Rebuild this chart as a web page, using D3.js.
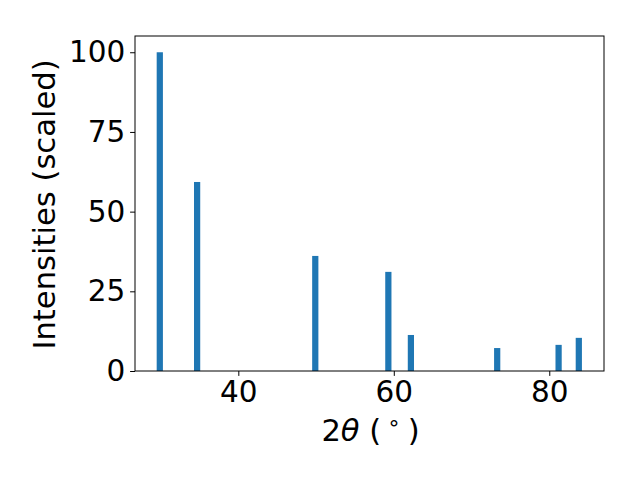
<!DOCTYPE html>
<html><head><meta charset="utf-8">
<script src="https://cdn.jsdelivr.net/npm/d3@7"></script>
<style>body{margin:0;background:#fff}svg{display:block}text{font-family:"DejaVu Sans",sans-serif}</style>
</head><body><svg id="c" width="640" height="480"></svg>
<script>
const twoTheta = [29.9, 34.7, 49.9, 59.3, 62.2, 73.3, 81.2, 83.8];
const intensity = [100, 59.3, 36.1, 31.1, 11.3, 7.2, 8.2, 10.4];
const xTicks = [40, 60, 80];
const yTicks = [0, 25, 50, 75, 100];
const barWidth = 0.8;

const svg = d3.select("#c");
const L = 135, R = 604, T = 36, B = 371;
const x = d3.scaleLinear().domain([26.71, 87.04]).range([L, R]);
const y = d3.scaleLinear().domain([0, 105.1]).range([B, T]);
const fs = 29.5, lfs = 30.6;

svg.append("g").selectAll("rect").data(twoTheta).join("rect")
  .attr("x", (d) => x(d - barWidth / 2))
  .attr("width", (d) => x(d + barWidth / 2) - x(d - barWidth / 2))
  .attr("y", (d, i) => y(intensity[i]))
  .attr("height", (d, i) => y(0) - y(intensity[i]))
  .attr("fill", "#1f77b4");

const xa = svg.append("g").attr("transform", `translate(0,${B})`)
  .call(d3.axisBottom(x).tickValues(xTicks).tickFormat(d3.format("d")).tickSize(4.9).tickPadding(4.9));
const ya = svg.append("g").attr("transform", `translate(${L},0)`)
  .call(d3.axisLeft(y).tickValues(yTicks).tickFormat(d3.format("d")).tickSize(4.9).tickPadding(4.9));
[xa, ya].forEach(a => {
  a.attr("font-size", fs).attr("font-family", "DejaVu Sans");
  a.select(".domain").remove();
  a.selectAll("line").attr("stroke", "#000").attr("stroke-width", 1);
  a.selectAll("text").attr("font-size", fs).attr("fill", "#000");
});

svg.append("rect").attr("x", L).attr("y", T).attr("width", R - L).attr("height", B - T)
  .attr("fill", "none").attr("stroke", "#000").attr("stroke-width", 1);

const xl = svg.append("text").attr("x", (L + R) / 2 + 1).attr("y", 441).attr("text-anchor", "middle")
  .attr("font-size", lfs);
xl.append("tspan").text("2");
xl.append("tspan").attr("font-style", "italic").text("θ");
xl.append("tspan").text(" (");
xl.append("tspan").attr("font-size", lfs * 0.7).attr("dx", 6).attr("dy", -11).text("∘");
xl.append("tspan").attr("dx", 7).attr("dy", 11).text(")");

svg.append("text").attr("transform", `translate(55,${(T + B) / 2 + 1}) rotate(-90)`)
  .attr("text-anchor", "middle").attr("font-size", lfs).text("Intensities (scaled)");
</script></body></html>
